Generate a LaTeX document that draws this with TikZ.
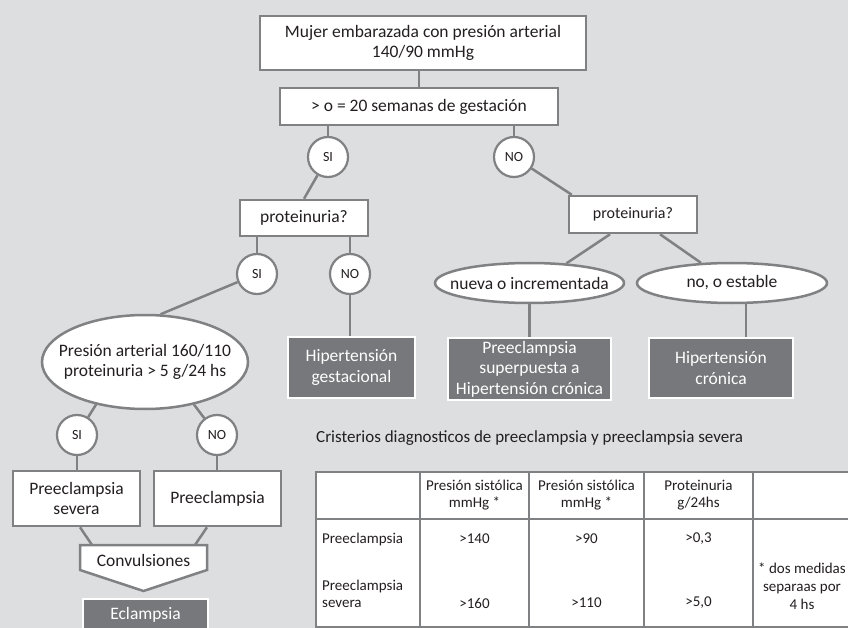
\documentclass[tikz,border=0pt]{standalone}
\usepackage{fontspec}
\setmainfont{Carlito}
\usetikzlibrary{shapes.geometric}

\definecolor{bgc}{RGB}{221,222,224}
\definecolor{linec}{RGB}{128,129,131}
\definecolor{darkc}{RGB}{119,120,123}
\definecolor{inkc}{RGB}{35,31,32}

\pgfdeclarelayer{bg}
\pgfdeclarelayer{lines}
\pgfsetlayers{bg,lines,main}

\newcommand\fmain{\fontsize{17.5}{20.5}\selectfont}
\newcommand\fsmall{\fontsize{15}{17}\selectfont}
\newcommand\fhead{\fontsize{16}{18}\selectfont}
\newcommand\ftitle{\fontsize{17}{20}\selectfont}
\newcommand\fyn{\fontsize{14}{16}\selectfont}

\begin{document}
\begin{tikzpicture}[x=1pt,y=-1pt,
  every node/.style={text=inkc, font=\fmain, inner sep=0pt},
  box/.style={draw=linec, line width=2.5pt, fill=white, align=center},
  darkbox/.style={draw=white, line width=1.5pt, fill=darkc, text=white, align=center},
  yesno/.style={circle, draw=linec, line width=2.2pt, fill=white, minimum size=40pt, font=\fyn},
  oval/.style={ellipse, draw=linec, line width=2.5pt, fill=white},
  link/.style={draw=linec, line width=2.5pt},
  grid/.style={draw=linec, line width=2pt},
  tabtext/.style={font=\fsmall, align=center}]

\useasboundingbox (0,0) rectangle (848,628);
\clip (0,0) rectangle (848,628);
\begin{pgfonlayer}{bg}
  \fill[bgc] (0,0) rectangle (848,628);
\end{pgfonlayer}

% decision tree
\node[box, minimum width=326pt, minimum height=54pt] (start) at (423,43)
  {Mujer embarazada con presión arterial\\140/90 mmHg};
\node[box, minimum width=278pt, minimum height=37pt] (q20) at (419,106.5)
  {> o = 20 semanas de gestación};
\node[yesno] (si1) at (328,157) {SI};
\node[yesno] (no1) at (514,157) {NO};

\node[box, minimum width=128pt, minimum height=36pt] (pl) at (304,218) {proteinuria?};
\node[box, minimum width=128pt, minimum height=37pt, font=\fhead] (pr) at (633,214.5) {proteinuria?};

\node[yesno] (si2) at (257,274) {SI};
\node[yesno] (no2) at (350,274) {NO};

\node[oval, minimum width=206pt, minimum height=94pt] (e1) at (145,362) {};
\node[align=center] (e1t) at (e1) {Presión arterial 160/110\\proteinuria > 5 g/24 hs};

\node[darkbox, minimum width=127pt, minimum height=61pt] (gest) at (351.5,367.5)
  {Hipertensión\\gestacional};

\node[oval, minimum width=189pt, minimum height=40pt] (nu) at (529.5,283) {};
\node (nut) at (nu) {nueva o incrementada};
\node[oval, minimum width=190pt, minimum height=40pt] (es) at (732,283) {};
\node (est) at (es) {no, o estable};

\node[darkbox, minimum width=163pt, minimum height=62pt] (sup) at (529.5,369)
  {Preeclampsia\\superpuesta a\\Hipertensión crónica};
\node[darkbox, minimum width=144pt, minimum height=60pt] (cro) at (721,368)
  {Hipertensión\\crónica};

\node[yesno] (si3) at (77,435) {SI};
\node[yesno] (no3) at (217,435) {NO};

\node[box, minimum width=127pt, minimum height=55pt] (sev) at (76.5,498.5) {Preeclampsia\\severa};
\node[box, minimum width=127pt, minimum height=55pt] (pre) at (217.5,498.5) {Preeclampsia};

% convulsions: pentagon pointing down
\draw[draw=linec, line width=2.5pt, fill=white]
  (80,545) -- (207,545) -- (207,570) -- (143.5,591) -- (80,570) -- cycle;
\coordinate (cvl) at (92,545);
\coordinate (cvr) at (195,545);
\node (conv) at (143.5,560) {Convulsiones};

\node[darkbox, minimum width=125pt, minimum height=32pt] (ecl) at (145.5,615) {Eclampsia};

% connectors
\begin{pgfonlayer}{lines}
  \draw[link] (q20.north) -- (q20.north |- start.south);
  \draw[link] (si1) -- (si1 |- q20.south);
  \draw[link] (no1) -- (no1 |- q20.south);
  \draw[link] (si1) -- (pl.north);
  \draw[link] (no1) -- ([xshift=4pt]pr.north west);
  \draw[link] (si2) -- (si2 |- pl.south);
  \draw[link] (no2) -- (no2 |- pl.south);
  \draw[link] (si2) -- (e1.72);
  \draw[link] (no2) -- (no2 |- gest.north);
  \draw[link] ([xshift=-23pt]pr.south) -- (nu.28);
  \draw[link] ([xshift=27pt]pr.south) -- (es.147);
  \draw[link] (nu.center) -- (nu.center |- sup.north);
  \draw[link] ([xshift=14pt]es.center) -- ([xshift=14pt]es.center |- cro.north);
  \draw[link] (e1.221) -- (si3);
  \draw[link] (e1.319) -- (no3);
  \draw[link] (si3) -- (si3 |- sev.north);
  \draw[link] (no3) -- (no3 |- pre.north);
  \draw[link] ([xshift=3.5pt]sev.south) -- (cvl);
  \draw[link] ([xshift=-10.5pt]pre.south) -- (cvr);
\end{pgfonlayer}

% criteria table
\node[anchor=west, font=\ftitle] (title) at (316,438)
  {Cristerios diagnosticos de preeclampsia y preeclampsia severa};
\draw[grid, fill=white] (316,472) rectangle (870,627);
\draw[grid] (316,519) -- (870,519);
\foreach \cx in {420,529,644,753} \draw[grid] (\cx,472) -- (\cx,627);

\node[tabtext] (h1) at (474.5,495.5) {Presión sistólica\\mmHg *};
\node[tabtext] (h2) at (586.5,495.5) {Presión sistólica\\mmHg *};
\node[tabtext] (h3) at (698.5,495.5) {Proteinuria\\g/24hs};

\node[tabtext, anchor=west] (r1) at (322,539) {Preeclampsia};
\node[tabtext, anchor=west, align=left] (r2) at (322,593.5) {Preeclampsia\\severa};

\node[tabtext] (v11) at (474.5,539) {>140};
\node[tabtext] (v12) at (586.5,539) {>90};
\node[tabtext] (v13) at (698.5,539) {>0,3};
\node[tabtext] (v21) at (474.5,603) {>160};
\node[tabtext] (v22) at (586.5,603) {>110};
\node[tabtext] (v23) at (698.5,603) {>5,0};

\node[tabtext, font=\fontsize{15}{18}\selectfont] (note) at (802,586)
  {* dos medidas\\separaas por\\4 hs};
\end{tikzpicture}
\end{document}
